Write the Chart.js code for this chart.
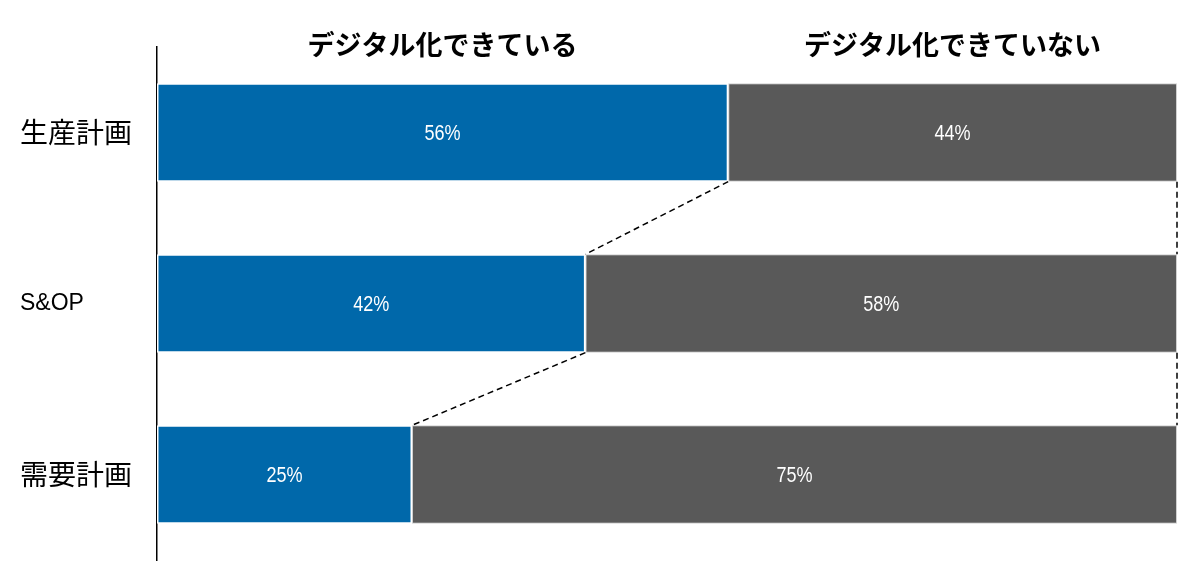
<!DOCTYPE html>
<html>
<head>
<meta charset="utf-8">
<script src="https://cdn.jsdelivr.net/npm/chart.js@4.4.1/dist/chart.umd.min.js"></script>
<style>
  html, body { margin: 0; padding: 0; background: #fff; }
  #wrap { width: 1200px; height: 572px; }
</style>
</head>
<body>
<div id="wrap"><canvas id="chart"></canvas></div>
<script>
const categories = ["生産計画", "S&OP", "需要計画"];
const seriesNames = ["デジタル化できている", "デジタル化できていない"];
const digitized = [56, 42, 25];
const notDigitized = [44, 58, 75];

const latinFont = "'Liberation Sans', 'Noto Sans CJK JP', sans-serif";

// value labels inside each bar segment (squeezed to look like a narrow face)
const valueLabels = {
  id: "valueLabels",
  afterDatasetsDraw(chart) {
    const ctx = chart.ctx;
    chart.data.datasets.forEach((ds, di) => {
      chart.getDatasetMeta(di).data.forEach((bar, i) => {
        const cx = (bar.x + bar.base) / 2;
        ctx.save();
        ctx.translate(cx, bar.y + 1);
        ctx.scale(0.82, 1);
        ctx.fillStyle = "#ffffff";
        ctx.font = "22px " + latinFont;
        ctx.textAlign = "center";
        ctx.textBaseline = "middle";
        ctx.fillText(ds.data[i] + "%", 0, 0);
        ctx.restore();
      });
    });
  }
};

// dashed lines joining the bars and the series headers
const connectors = {
  id: "connectors",
  afterDatasetsDraw(chart) {
    const ctx = chart.ctx;
    const blue = chart.getDatasetMeta(0).data;
    const gray = chart.getDatasetMeta(1).data;
    ctx.save();
    ctx.strokeStyle = "#000000";
    ctx.lineWidth = 1.5;
    ctx.setLineDash([6, 4]);
    for (let i = 0; i < blue.length - 1; i++) {
      const a = blue[i], b = blue[i + 1];
      ctx.beginPath();
      ctx.moveTo(a.x, a.y + a.height / 2);
      ctx.lineTo(b.x, b.y - b.height / 2);
      ctx.stroke();
      const c = gray[i], d = gray[i + 1];
      ctx.beginPath();
      ctx.moveTo(c.x, c.y + c.height / 2);
      ctx.lineTo(d.x, d.y - d.height / 2);
      ctx.stroke();
    }
    ctx.setLineDash([]);

    ctx.fillStyle = "#000000";
    ctx.font = "bold 27px 'Noto Sans CJK JP', sans-serif";
    ctx.textAlign = "center";
    ctx.textBaseline = "middle";
    const b0 = blue[0], g0 = gray[0];
    ctx.fillText(seriesNames[0], (b0.x + b0.base) / 2, 45);
    ctx.fillText(seriesNames[1], (g0.x + g0.base) / 2, 45);
    ctx.restore();
  }
};

new Chart(document.getElementById("chart"), {
  type: "bar",
  data: {
    labels: categories,
    datasets: [
      {
        label: seriesNames[0],
        data: digitized,
        backgroundColor: "#0068aa",
        borderColor: "#ffffff",
        borderWidth: 1.5,
        borderSkipped: false,
        barPercentage: 0.575,
        categoryPercentage: 1.0
      },
      {
        label: seriesNames[1],
        data: notDigitized,
        backgroundColor: "#595959",
        borderColor: "#d0d0d0",
        borderWidth: 1,
        borderSkipped: false,
        barPercentage: 0.575,
        categoryPercentage: 1.0
      }
    ]
  },
  options: {
    indexAxis: "y",
    responsive: true,
    maintainAspectRatio: false,
    animation: false,
    layout: { padding: { top: 47, bottom: 12, left: 20, right: 23 } },
    plugins: {
      legend: { display: false },
      tooltip: { enabled: false }
    },
    scales: {
      x: {
        stacked: true,
        min: 0,
        max: 100,
        display: false
      },
      y: {
        stacked: true,
        grid: { display: false, drawTicks: false },
        border: { display: true, color: "#000000", width: 1.5 },
        ticks: {
          crossAlign: "far",
          padding: 0,
          color: "#000000",
          font: (c) => ({
            family: c.index === 1 ? latinFont : "'Noto Sans CJK JP', sans-serif",
            size: c.index === 1 ? 23 : 28
          })
        },
        afterFit(scale) {
          scale.width = 137;
          scale.paddingTop = 0;
          scale.paddingBottom = 0;
        }
      }
    }
  },
  plugins: [valueLabels, connectors]
});
</script>
</body>
</html>
